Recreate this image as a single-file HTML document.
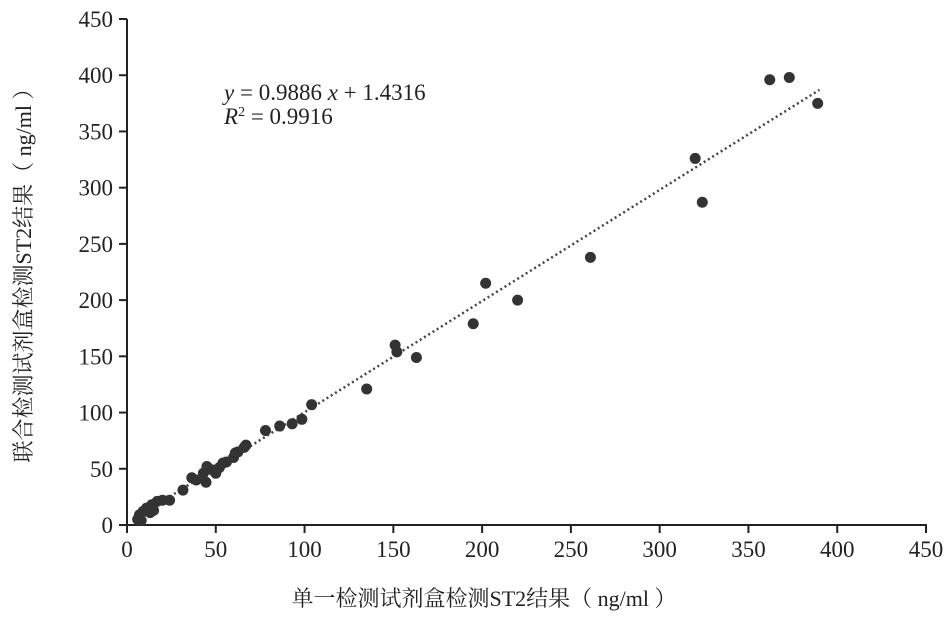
<!DOCTYPE html>
<html><head><meta charset="utf-8"><style>
html,body{margin:0;padding:0;background:#fff;}
svg{display:block;font-family:"Liberation Serif","Noto Serif CJK SC",serif;}
</style></head><body>
<svg id="chart" width="945" height="620" viewBox="0 0 945 620" xmlns="http://www.w3.org/2000/svg"></svg>
<script>
const xTicks=[0,50,100,150,200,250,300,350,400,450];
const yTicks=[0,50,100,150,200,250,300,350,400,450];
const xVals=[362,373,389,320,324,261,202,220,195,135,151,152,163,104,98.5,93,86,78,66,62.5,60,56,52,50,45,44.5,39,36.5,31.5,24,20,17,14,11,9,7,6,8,13,15,43,61,54,48,67];
const yVals=[396,398,375,326,287,238,215,200,179,121,160,154,149,107,94,90,88,84,69,65,60,56,51,46,52,38,40,42,31,22,22,21,18,15,12,9,5,4,11,13,46,64,55,49,71];
const slope=0.9886, intercept=1.4316, fitX0=5, fitX1=390;
const NS='http://www.w3.org/2000/svg';
const svg=document.getElementById('chart');
const X0=127,X1=926,Y0=525,Y1=19;
const sx=v=>X0+(v/450)*(X1-X0);
const sy=v=>Y0-(v/450)*(Y0-Y1);
function mk(t,a,p){const e=document.createElementNS(NS,t);for(const k in a)e.setAttribute(k,a[k]);(p||svg).appendChild(e);return e;}
let ax=mk('line',{x1:X0,y1:Y0,x2:X1+1,y2:Y0,stroke:'#222','stroke-width':2});


let ay=mk('line',{x1:X0,y1:Y1,x2:X0,y2:Y0+1,stroke:'#222','stroke-width':2});


xTicks.forEach(v=>{
  const t=mk('line',{x1:sx(v),y1:Y0,x2:sx(v),y2:Y0+8,stroke:'#222','stroke-width':2});
  
  
  const l=mk('text',{x:sx(v),y:Y0+32,'text-anchor':'middle','font-size':23,fill:'#222'});
  l.textContent=v;
  
  
});
yTicks.forEach(v=>{
  const t=mk('line',{x1:X0-8,y1:sy(v),x2:X0,y2:sy(v),stroke:'#222','stroke-width':2});
  
  
  const l=mk('text',{x:X0-14,y:sy(v)+8,'text-anchor':'end','font-size':23,fill:'#222'});
  l.textContent=v;
  
  
});
const tl=mk('line',{x1:sx(fitX0),y1:sy(slope*fitX0+intercept),x2:sx(fitX1),y2:sy(slope*fitX1+intercept),stroke:'#444','stroke-width':2.5,'stroke-dasharray':'2 3'});


xVals.forEach((v,i)=>{
  const c=mk('circle',{cx:sx(v),cy:sy(yVals[i]),r:5.5,fill:'#333'});
  
  
});
</script>
<svg style="position:absolute;left:0;top:0" width="945" height="620">
<text x="224" y="100" font-size="23" fill="#222" font-family="Liberation Serif, serif"><tspan font-style="italic">y</tspan> = 0.9886 <tspan font-style="italic">x</tspan> + 1.4316</text>
<text x="224" y="124" font-size="23" fill="#222" font-family="Liberation Serif, serif"><tspan font-style="italic">R</tspan><tspan font-size="14" dy="-8">2</tspan><tspan dy="8"> = 0.9916</tspan></text>
<text x="484" y="606" text-anchor="middle" font-size="22" fill="#222" font-family="Liberation Serif, Noto Serif CJK SC, serif">单一检测试剂盒检测ST2结果（ ng/ml ）</text>
<text transform="translate(31,270) rotate(-90)" text-anchor="middle" font-size="22" fill="#222" font-family="Liberation Serif, Noto Serif CJK SC, serif">联合检测试剂盒检测ST2结果（ ng/ml ）</text>
</svg>
</body></html>
